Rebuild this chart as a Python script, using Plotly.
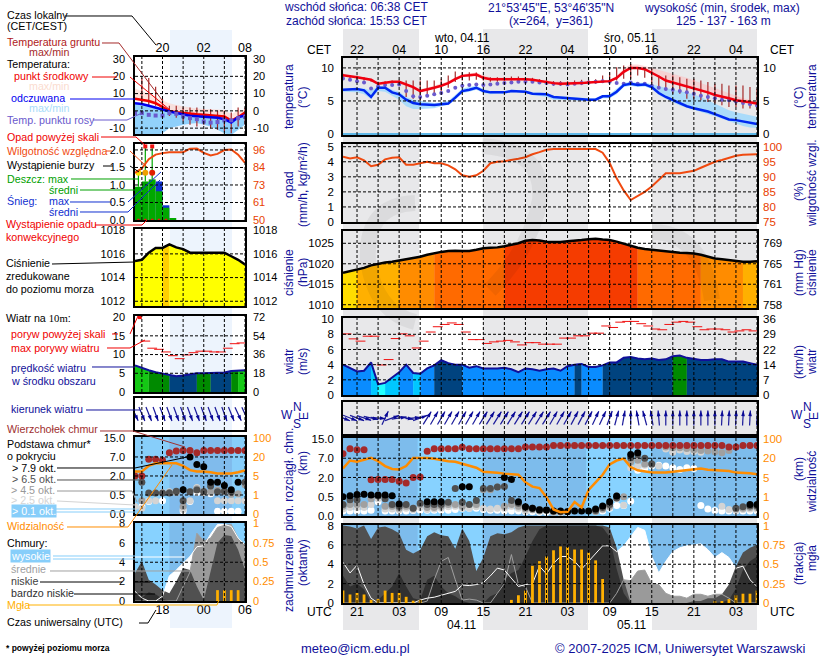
"""
Meteogram ICM - 60 h forecast with the legend panel on the left
"""
import math
import numpy as np
import plotly.graph_objects as go

W, H = 820, 660
FONT = "Liberation Sans"
NAVY = "#10109a"
ORANGE = "#ff8c00"
RH_RED = "#f04a10"

# ---------------- left legend panels, hours from 16 CET
hours_left = list(range(17))
ticks_left_cet = ["20", "02", "08"]
ticks_left_utc = ["18", "00", "06"]

temp_left = [7.1, 6.6, 5.7, 4.4, 2.2, 0.0, -0.8, -1.3, -1.6, -2.0, -2.3, -2.5, -2.8, -3.3, -5.6, -3.7, -1.0]
temp_left_max = [13, 11.5, 10, 8.3, 6, 4.4, 3.4, 2.5, 2, 1.4, 1, 1, 0.8, 0.5, -2, 0, 0.6]
temp_left_min = [6.5, 5.5, 4.5, 3.5, 1.5, -0.8, -1.5, -2, -2.3, -3, -3, -3.5, -3.8, -4, -6.5, -5, -2]
feels_left = [4.4, 4.0, 3.0, 2.1, 0.8, -0.4, -1.2, -2.3, -2.8, -3.1, -3.3, -3.5, -4.0, -4.8, -6.7, -3.7, -2.7]
feels_left_max = [4.5, 4, 3, 2, 1, 0, -1, -2, -2.5, -3, -3, -3.5, -4, -4.5, -6.5, -3.5, -2.5]
feels_left_min = [-14, -14, -14, -14, -13, -10, -9, -8, -7.5, -7, -8, -9, -11, -13, -14, -11, -8]
dew_left = [-1.3, -1.3, -2.3, -2.7, -2.7, -1.3, -1.7, -3.2, -4.2, -4.8, -6.2, -6.8, -6.5, -5.5, -5.5, -4.2, -3.5]
ground_left_max = [None, 19, 19, 14, 7, 3, 3, 2, 2, 2, 1, 1, 0, 0, -1, 2, 2]
ground_left_min = [None, 5, 3, 3, 1, -3, -4, -6, -8, -9, -8, -10, -11, -12, -13, -9, -8]

rain_left = [0.95, 1.1, 1.16, 0.82, 0.35, 0.05, 0, 0, 0, 0, 0, 0, 0, 0, 0, 0]
snow_left = [0, 0, 0, 1.1, 0.42, 0, 0, 0, 0, 0, 0, 0, 0, 0, 0, 0]
rain_max_left = [1.35, 2.1, 2.1]
storm_left = [1.35, 1.35, 1.35]
storm_colors = ["#ffe000", "#f0a000", "#e02000"]
rh_left = [81, 84, 90, 93, 94, 94.6, 94.6, 94.6, 96.9, 97, 94.2, 92.4, 93.5, 96, 96.4, 93, 87.6]
pressure_left = [1015.4, 1015.5, 1016.1, 1016.5, 1016.5, 1016.8, 1016.55, 1016.4, 1016.1, 1016.1, 1016.1,
                 1016.1, 1016.1, 1016.1, 1015.8, 1015.5, 1015.1]
wind_left = [7.1, 6.4, 5.8, 5.3, 4.9, 4.4, 4.2, 4.4, 4.7, 5.0, 5.0, 5.0, 5.1, 5.2, 5.6, 5.7, 5.8]
wind_left_class = [6, 6, 5, 5, 5, 4, 4, 4, 4, 5, 5, 4, 4, 4, 5, 6]
gust_left = [None, 13.6, 11.7, 11.4, 10.7, 9.7, 8.9, 9.9, 10.5, 10.9, 10.9, 10.7, 10.7, 11.7, 12.9, 13.1]
dir_left = [155, 157, 158, 160, 160, 160, 160, 160, 160, 160, 160, 160, 160, 160, 158, 155, 155]

top_left = [2, 2, 6.4, 6.4, 6.15, 8.8, 9.5, 9.7, 9.7, 8.8, 9.7, 9.7, 9.7, 9.7, 9.7, 9.7, 9.7]
base79_left = [None, None, None, None, None, None, None, 0.92, 7, 5, 4.4, 1.5, 1.5, 1.25, 0.92, 1.5, None]
base65_left = [None, 1.5, 0.65, 0.65, 0.65, 0.65, 0.8, 0.35, 0.75, 0.9, 0.75, 1.2, 0.75, 0.8, 0.75, None, 1.5]
base45_left = [None, 0.35, None, None, None, 0.7, 0.7, 0.2, 0.75, 1.0, 0.8, 0.75, 0.9, 0.75, 0.55, 0.6, 1.3]
base25_left = [0.2, 0.15, 0.35, 0.35, 0.7, 0.75, 0.75, 0.12, 0.35, 1.1, 0.7, 0.7, 0.35, 0.35, 0.35, 0.35, 0.35]
base01_left = [None, 0.2, 0.33, None, 0.35, None, None, 0.08, 0.33, 0.7, 0.7, 0.6, 0.07, 0.07, 0.07, 0.07, None]
vis_left = [8.6, 8.6, 13, 15, 15, 15, 15, 13, 9.6, 8.6, 8.6, 8, 7, 7, 7, 8, 9.3]

high_left = [1.0, 0.3, 0, 0, 0.5, 2.6, 3.2, 3.9, 4.6, 5.6, 5.7, 6.9, 7.9, 7.9, 7.7, 6.5, 5.8]
mid_left = [0, 0, 0, 0, 0, 0, 0, 1.5, 3, 7, 6.2, 6.5, 7.6, 7.8, 7.9, 6.5, 5.8]
low_left = [2.9, 4.1, 2.2, 1.7, 1.1, 0.8, 2, 3.4, 3.2, 1.5, 0.1, 2.9, 6, 6.8, 6.7, 5.3, 3.2]
vlow_left = [0.8, 0.3, 0.9, 0.7, 0.2, 0, 0, 0, 0, 0, 0, 0, 0, 0, 0, 0, 0]
fog_left = [0, 0, 0, 0, 0, 0, 0, 0, 0, 0, 0, 0, 0.14, 0.14, 0.14, 0.14, 0]

# ---------------- main panels, hours from 20 CET on 03.11
hours_main = list(range(60))
ticks_main_cet = ["22", "04", "10", "16", "22", "04", "10", "16", "22", "04"]
ticks_main_utc = ["21", "03", "09", "15", "21", "03", "09", "15", "21", "03"]

temp_main = [8.9, 8.8, 8.6, 8.4, 8.2, 7.6, 7.8, 7.9, 7.9, 7.5, 7.1, 6.5, 6.7, 7.0, 7.3, 7.7, 8.3, 8.8, 8.9, 9.0,
             8.5, 8.3, 8.3, 8.3, 8.4, 8.4, 8.3, 8.2, 8.0, 7.9, 7.7, 7.6, 7.6, 7.7, 7.7, 7.8, 7.9, 8.0, 8.0, 8.5,
             9.4, 10.0, 10.0, 9.8, 9.3, 8.7, 8.1, 7.8, 7.6, 7.3, 7.0, 6.6, 6.3, 5.9, 5.7, 5.4, 5.1, 5.0, 4.8, 4.6]
temp_main_max = [9.0, 8.9, 8.8, 8.6, 8.3, 7.8, 8.0, 8.0, 8.0, 7.7, 7.3, 6.8, 7.0, 7.3, 7.6, 8.0, 8.6, 9.0, 9.2, 9.3,
                 8.9, 8.6, 8.6, 8.6, 8.6, 8.6, 8.5, 8.4, 8.2, 8.1, 8.0, 7.9, 7.9, 7.9, 7.9, 8.0, 8.1, 8.2, 8.2, 8.8,
                 9.9, 10.5, 10.5, 10.3, 10.0, 9.7, 9.5, 9.2, 8.8, 8.5, 8.1, 7.7, 7.3, 6.9, 6.5, 6.1, 5.7, 5.4, 5.2, 4.9]
temp_main_min = [8.7, 8.6, 8.4, 8.2, 8.0, 7.4, 7.6, 7.7, 7.7, 7.2, 6.8, 6.3, 6.5, 6.8, 7.1, 7.5, 8.1, 8.6, 8.7, 8.7,
                 8.3, 8.1, 8.1, 8.1, 8.2, 8.2, 8.1, 8.0, 7.8, 7.6, 7.4, 7.3, 7.4, 7.5, 7.5, 7.6, 7.7, 7.8, 7.8, 8.3,
                 9.1, 9.8, 9.8, 9.6, 9.1, 8.5, 7.9, 7.6, 7.4, 7.1, 6.8, 6.4, 6.1, 5.7, 5.5, 5.2, 4.9, 4.7, 4.5, 4.3]
feels_main = [6.7, 6.8, 6.8, 6.6, 5.6, 7.0, 7.0, 6.3, 6.0, 5.2, 4.7, 4.5, 4.4, 4.4, 4.5, 4.6, 5.5, 6.5, 6.7, 7.0,
              6.5, 6.3, 6.3, 6.3, 6.5, 6.5, 6.4, 6.1, 6.0, 6.0, 5.6, 5.5, 5.5, 5.3, 5.3, 5.2, 5.2, 5.7, 5.7, 6.4,
              7.4, 7.6, 7.4, 7.5, 7.1, 6.2, 5.6, 5.1, 4.6, 4.2, 3.9, 3.7, 3.4, 3.0, 2.6, 2.2, 2.1, 1.9, 1.7, 1.5]
feels_main_max = [6.9, 6.9, 6.9, 6.9, 6.6, 7.2, 7.2, 6.7, 6.4, 5.6, 5.2, 5.0, 4.8, 4.7, 4.8, 5.0, 5.9, 6.9, 7.1, 7.3,
                  6.8, 6.5, 6.5, 6.5, 6.7, 6.7, 6.6, 6.3, 6.2, 6.2, 5.8, 5.7, 5.7, 5.5, 5.5, 5.4, 5.4, 5.9, 6.0, 6.8,
                  7.7, 7.9, 7.7, 7.8, 7.5, 7.2, 6.9, 6.7, 6.5, 6.3, 6.0, 5.6, 5.1, 4.6, 4.1, 3.6, 3.3, 3.1, 2.8, 2.6]
feels_main_min = [6.4, 6.4, 6.3, 6.0, 5.3, 6.5, 6.4, 5.8, 5.2, 4.2, 3.8, 3.8, 3.9, 3.9, 4.2, 4.4, 5.2, 6.2, 6.4, 6.7,
                  6.2, 6.0, 6.1, 6.1, 6.3, 6.3, 6.2, 5.9, 5.8, 5.6, 5.2, 5.2, 5.2, 5.1, 5.0, 5.0, 5.1, 5.4, 5.4, 6.0,
                  7.1, 7.3, 7.1, 7.2, 6.8, 5.9, 5.3, 4.8, 4.3, 4.0, 3.7, 3.4, 3.1, 2.7, 2.3, 1.9, 1.6, 1.2, 1.0, 0.9]
dew_main = [8.4, 8.2, 8.0, 7.8, 6.9, 7.2, 7.4, 7.4, 7.5, 6.5, 5.7, 5.6, 5.8, 6.0, 6.2, 6.5, 7.0, 7.3, 7.4, 7.5,
            7.4, 7.5, 7.6, 7.7, 7.8, 7.9, 7.9, 7.9, 7.8, 7.7, 7.6, 7.6, 7.5, 7.6, 7.7, 7.8, 7.9, 8.0, 7.9, 7.7,
            7.6, 7.8, 7.6, 7.6, 7.3, 7.0, 6.8, 6.7, 6.5, 6.3, 6.1, 5.8, 5.6, 5.4, 5.2, 5.1, 4.9, 4.7, 4.5, 4.3]
ground_main_max = [9.1, 8.9, 8.8, 8.6, 8.3, 7.9, 8.0, 8.1, 8.2, 8.1, 8.1, 8.1, 8.1, 8.1, 8.35, 8.85, 9.45, 9.35, 9.35, 9.3,
                   8.8, 8.6, 8.6, 8.6, 8.7, 8.7, 8.6, 8.5, 8.3, 8.2, 8.0, 8.0, 8.0, 8.1, 8.2, 8.2, 8.3, 8.85, 9.35, 10.1,
                   10.35, 10.6, 10.1, 9.9, 9.9, 8.85, 8.85, 8.85, 8.6, 8.35, 8.35, 8.1, 7.85, 7.6, 7.6, 7.35, 7.35, 7.35, 7.1, 6.85]
ground_main_min = [8.5, 8.4, 8.3, 8.1, 7.9, 7.1, 7.5, 7.6, 7.6, 5.6, 5.35, 5.1, 5.6, 6.1, 6.35, 7.0, 7.85, 8.1, 8.1, 8.2,
                   8.1, 7.9, 7.9, 8.0, 8.1, 8.0, 8.0, 7.9, 7.7, 7.5, 7.3, 7.3, 7.3, 7.4, 7.4, 7.5, 7.6, 7.85, 7.85, 8.1,
                   8.35, 8.35, 8.85, 8.5, 7.6, 6.85, 6.6, 6.1, 6.1, 5.35, 5.35, 5.1, 4.85, 4.6, 4.35, 4.1, 4.1, 3.85, 3.85, 3.6]

rain_main = [0] * 59
rh_main = [96.7, 96.1, 96.5, 95.5, 93.5, 94, 95.8, 96.3, 96.5, 94, 94, 94.5, 95, 94.5, 94.5, 93.8, 92.5, 90.5, 90, 90.5,
           92, 94.5, 95, 95.2, 95.5, 96, 96.5, 97.5, 98.2, 99, 99.2, 99.2, 99.2, 99.2, 99.2, 99.2, 99.2, 98, 94.6, 89.5,
           85.5, 82.3, 83.7, 85, 86.8, 89, 91.2, 91.2, 91.2, 91.6, 92, 93, 94, 95, 95.6, 96.2, 97, 97.3, 97.5, 97.5]
pressure_main = [1017.8, 1018.2, 1018.5, 1019, 1019.6, 1020, 1020.3, 1020.5, 1020.8, 1021.2, 1021.4, 1021.7, 1022.2,
                 1022.6, 1022.9, 1023.1, 1023.2, 1023.1, 1023.1, 1023.4, 1023.8, 1023.9, 1024, 1024.3, 1024.6, 1025,
                 1025.6, 1025.8, 1025.7, 1025.4, 1025.3, 1025.3, 1025.5, 1025.6, 1025.8, 1026, 1026.1, 1025.9, 1025.8,
                 1025.4, 1024.9, 1024.3, 1023.9, 1023.6, 1023.4, 1023.3, 1023, 1022.8, 1022.7, 1022.6, 1022.5, 1022.2,
                 1021.7, 1021.3, 1021.1, 1020.9, 1020.6, 1020.5, 1020.5, 1020.6]
wind_main = [4.0, 3.5, 3.1, 3.2, 4.3, 1.4, 1.6, 2.3, 3.0, 4.0, 2.9, 2.8, 3.5, 3.9, 4.6, 4.2, 4.0, 4.0, 3.6, 3.8,
             3.5, 3.5, 3.5, 3.6, 3.4, 3.0, 3.5, 3.4, 3.2, 3.4, 3.5, 3.2, 3.8, 4.0, 4.1, 3.7, 3.7, 3.9, 4.3, 4.3,
             4.9, 5.0, 4.8, 4.7, 4.8, 4.6, 4.7, 5.1, 5.2, 4.9, 4.8, 4.6, 4.6, 4.7, 4.7, 4.4, 4.4, 4.4, 4.2, 4.0]
wind_main_class = [3, 3, 3, 3, 2, 1, 2, 2, 3, 3, 2, 3, 3, 4, 4, 4, 4] + [3] * 16 + [4] + [3] * 3 + [4] * 10 + [5, 5] + [4] * 10
gust_main = [8.06, 7.4, 7.1, 7.75, 7.75, 3.96, 4.67, 7.44, 8.06, 7.8, 6.2, 7.1, 8.3, 9.0, 9.3, 9.5, 9.3, 8.3, 7.3, 7.3,
             6.8, 7.0, 7.1, 7.2, 7.0, 6.6, 6.9, 6.9, 6.7, 6.7, 6.7, 7.5, 7.5, 7.8, 7.8, 8.15, 8.15, 9.1, 8.9, 9.6,
             9.7, 9.7, 9.4, 9.1, 8.7, 8.6, 9.3, 9.6, 9.7, 9.6, 9.0, 8.6, 8.7, 8.7, 8.6, 8.3, 8.45, 8.6, 8.45]
dir_main = [112, 112, 110, 108, 102, 95, 25, 70, 82, 100, 85, 70, 32, 30, 30, 30, 30, 30, 30, 30,
            32, 32, 32, 32, 32, 32, 32, 32, 32, 32, 30, 30, 30, 28, 28, 28, 25, 25, 20, 15,
            10, 0, -10, -15, -10, -5, 0, 0, 0, 0, 0, 0, 0, 0, 3, 3, 3, 3, 3, 3]

top_main = [8.9, 10.9, 10.5, 10.5, 1.82, 1.85, 1.85, 1.85, 1.7, 1.57, 2.0, 2.15, 9.9, 10.9, 10.9, 10.9, 10.9, 11.6, 10.9, 10.9,
            10.9, 10.9, 10.9, 10.9, 10.9, 10.9, 11.7, 11.7, 11.7, 11.7, 12.3, 12.3, 12.3, 12.3, 12.3, 12.3, 12.3, 12.3, 12.3, 12.3,
            12.3, 12.3, 12.3, 12.3, 12.3, 12.3, 12.3, 12.3, 12.3, 12.3, 12.3, 12.3, 12.3, 12.3, 12.3, 11.7, 11.7, 12.3, 12.3, 12.3]
base79_main = [0.5, 0.58, 0.68, 0.7, 0.63, 0.63, 0.63, 0.58, 0.31, None, None, None, 0.37, 0.37, 0.37, None, None, 1.28, 1.28, None,
               None, None, None, 2.0, 1.85, 0.37, 0.24, 0.2, 0.155, 0.155, 0.13, 0.13, 0.11, 0.13, 0.13, 0.13, 0.18, 0.26, 0.37, 0.55,
               None, 8.5, 9.3, None, None, None, None, None, None, None, None, None, None, None, None, None, None, None, 0.3, 0.3]
base65_main = [0.3, 0.42, 0.42, None, None, 0.55, 0.45, 0.3, 0.25, 0.3, 0.2, 0.33, 0.3, 0.3, 0.3, 0.36, 1.15, 0.36, 0.3, 0.4,
               1.15, 1.15, 1.25, 1.3, 0.4, 0.33, 0.22, 0.2, 0.17, 0.15, 0.13, 0.11, 0.12, None, None, None, 0.14, 0.22, 0.3, 0.47,
               None, 7.2, 8.5, 7.0, 5.5, None, None, None, None, None, None, None, None, None, None, None, 0.2, 0.24, 0.26, 0.26]
base45_main = [0.25, 0.3, 0.3, 0.3, 0.45, 0.6, 0.25, 0.25, 0.2, 0.25, 0.2, 0.3, 0.22, 0.22, 0.25, 0.3, 0.3, 0.25, None, 0.3,
               1.05, 1.05, 1.25, 0.25, 0.3, 0.25, 0.18, 0.16, 0.13, None, 0.1, 0.1, None, None, None, None, 0.12, 0.18, 0.25, 0.55,
               0.5, 6.0, 6.5, 5.5, 5.5, None, 11.7, 11.4, 11.4, 11.0, 10.5, 10.2, 10.0, 9.7, 9.3, 10.2, 0.18, 0.2, 0.22, 0.22]
base25_main = [0.18, 0.22, 0.22, 0.22, 0.3, 0.45, 0.18, 0.18, 0.16, 0.2, 0.16, 0.22, 0.17, 0.18, 0.2, 0.24, 0.25, 0.2, 0.2, 0.24,
               0.2, 0.18, 0.2, 0.2, 0.25, 0.2, 0.13, None, None, None, None, None, None, None, None, None, 0.11, 0.16, 0.22, 0.45,
               0.28, 4.5, 5.0, 5.2, 5.3, 5.0, 10.8, 9.5, 10.4, 9.8, 9.8, 9.5, None, None, 0.25, 0.17, 0.15, 0.17, 0.18, 0.18]
base01_main = [0.13, 0.13, 0.13, 0.13, 0.15, 0.37, 0.13, 0.13, 0.13, 0.13, 0.14, 0.15, 0.15, 0.15, 0.15, 0.15, 0.17, 0.2, 0.2, 0.2,
               0.17, 0.15, 0.15, 0.13, 0.13, 0.13, 0.11, 0.11, 0.1, 0.1, 0.1, 0.09, 0.1, None, None, None, None, 0.13, 0.2, 0.27,
               0.27, 0.38, 3.9, 4.35, 5.0, 5.2, 4.95, 4.5, 4.05, 4.5, 4.35, 0.27, 0.18, 0.14, 0.13, 0.13, 0.13, 0.13, 0.13, 0.13]
vis_main = [12, 18.2, 17.2, 19, 21.4, 17.7, 13.9, 11.6, 11.3, 13.9, 21.4, 21.4, 21.4, 19.5, 18.5, 17.7, 17.2, 15.7, 13.9, 12.6,
            9.5, 8.8, 8.6, 8, 7.6, 7.1, 4, 3.1, 2.8, 0.98, 0.34, 0.2, 0.22, 0.73, 0.44, 2.4, 4, 7.1, 15.2, 18.2,
            19.7, 13.1, 10.6, 9.5, 8.8, 8.8, 8.8, 9.5, 10, 10.6, 11.1, 11.9, 11.1, 10.6, 10.4, 10, 8.8, 8.6, 8.3, 7.6]

high_main = [4.2, 3.1, 3.9, 1.9, 0.5, 0, 0, 0, 0, 0, 0, 0.3, 0.5, 0.6, 0.8, 1.0, 1.2, 1.85, 1.8, 1.9,
             2.1, 2.8, 3.6, 3.4, 2.6, 1.7, 1.9, 2, 3.8, 3, 4.1, 4.8, 4.8, 4.3, 3.5, 4.3, 5, 5.9, 5.9, 5.3,
             5.9, 6.9, 7.8, 7.5, 4.8, 3.1, 4.3, 5.3, 5.7, 5.9, 6, 6.1, 5.5, 4.7, 5.2, 4.7, 3.6, 3.8, 2.4, 1.7]
mid_main = [0, 0, 0, 0, 0, 0, 0, 0, 0, 0, 0, 0, 0.2, 2.4, 4.3, 4.7, 2.4, 0.3, 0.4, 0.3,
            0, 0, 1, 2, 5, 1.9, 1.7, 0, 0, 0, 0, 0, 0, 0, 0, 0, 0, 0, 0, 1.0,
            2.4, 2.3, 3.3, 3.4, 2, 1.9, 1, 0.7, 0.7, 0.5, 0.9, 0.9, 0.7, 0.9, 0.9, 0.5, 0, 0, 0, 0]
low_main = [8, 7.9, 7.7, 8, 6.6, 7.8, 7.9, 7.6, 7.2, 5.5, 5.1, 5.5, 6.9, 7.3, 7, 6.9, 5.6, 7.7, 6.4, 3.3,
            4.7, 6.9, 7.2, 7.1, 7.3, 7.8, 8, 8, 8, 8, 8, 8, 8, 8, 8, 8, 8, 8, 7.8, 5.7,
            2.4, 0, 0, 0, 0, 0, 0, 0, 0, 0, 0.2, 0.2, 0.5, 0.5, 0.9, 1.9, 3.8, 5.2, 5.7, 6]
vlow_main = [2.8, 1.7, 2, 1.4, 0, 0.3, 1, 1.7, 3.1, 1.7, 0.5, 0.3, 2.4, 2.8, 1.7, 1, 0.7, 0.2, 0, 0,
             0, 0.7, 1, 2.4, 3.1, 3.4, 4.8, 6.4, 7.6, 8, 8, 8, 8, 8, 8, 8, 8, 7.8, 6.8, 3.5,
             1, 0, 0, 0, 0, 0, 0, 0, 0, 0, 0, 0, 0, 0, 0.1, 0.3, 1.5, 3.4, 4.3, 4.8]
fog_main = [0.16, 0.11, 0.13, 0.11, 0.04, 0.05, 0.16, 0.13, 0.13, 0.08, 0.03, 0.04, 0, 0, 0, 0, 0, 0, 0, 0,
            0, 0, 0, 0, 0.04, 0.1, 0.16, 0.48, 0.54, 0.6, 0.68, 0.73, 0.72, 0.69, 0.69, 0.65, 0.55, 0.31, 0, 0,
            0, 0, 0, 0, 0, 0, 0, 0, 0, 0, 0, 0, 0, 0.02, 0.02, 0.05, 0.1, 0.12, 0.12, 0.16]

cloud_ticks = [0, 0.5, 2, 7, 15]
vis_ticks = [0, 1, 5, 20, 100]
pos_ticks = [0, 1, 2, 3, 4]
sun_main = [(0, 10.63), (19.88, 34.63), (43.88, 59)]
sun_left = [(5, 14.1)]


def px(x):
    return x / W


def py(y):
    return 1 - y / H


fig = go.Figure()
axes = {}
shapes = []
annots = []


def pick(idx, right=False):
    return dict(xaxis=f"x{idx}", yaxis=f"y{idx + 20}" if right else f"y{idx}")


def panel(idx, box, xr, yr, left=None, right=None, yr2=None, xticks=None, xside="bottom",
          grid_y=(), left_color="black", right_color="black"):
    """Axes of one panel, box is in pixels of the page."""
    x0, y0, x1, y1 = box
    small = idx < 8
    tick_font = dict(family=FONT, size=11 if small else 11.5)
    if xside == "bottom":
        x_standoff = -4
    else:
        x_standoff = -2 if small else -3
    xa = dict(domain=[px(x0), px(x1)], range=xr, anchor=f"y{idx}", showgrid=False, zeroline=False,
              showline=True, linecolor="black", linewidth=1.5, mirror=True, ticks="", side=xside,
              showticklabels=xticks is not None, tickfont=dict(family=FONT, size=12.5, color="black"),
              ticklabelstandoff=x_standoff)
    if xticks:
        xa.update(tickmode="array", tickvals=xticks[0], ticktext=xticks[1])
    ya = dict(domain=[py(y1), py(y0)], range=yr, anchor=f"x{idx}", showgrid=False, zeroline=False,
              showline=True, linecolor="black", linewidth=1.5, mirror=True, ticks="",
              showticklabels=left is not None, tickfont=dict(tick_font, color=left_color))
    if left:
        ya.update(tickmode="array", tickvals=left[0], ticktext=left[1], ticklabelstandoff=6 if small else 5)
    yb = dict(domain=[py(y1), py(y0)], range=yr2 or yr, anchor=f"x{idx}", overlaying=f"y{idx}", side="right",
              showgrid=False, zeroline=False, showline=False, ticks="",
              showticklabels=right is not None, tickfont=dict(tick_font, color=right_color))
    if right:
        yb.update(tickmode="array", tickvals=right[0], ticktext=right[1], ticklabelstandoff=7 if small else 5)
    axes[f"xaxis{idx}"] = xa
    axes[f"yaxis{idx}"] = ya
    axes[f"yaxis{idx + 20}"] = yb
    fig.add_trace(go.Scatter(x=[None], y=[None], showlegend=False, **pick(idx, True)))
    # grid has to stay over the areas, so it is drawn as shapes
    for v in np.arange(xticks_grid[idx], xr[1] + 0.01, 3):
        shapes.append(dict(type="line", xref=f"x{idx}", yref=f"y{idx}", x0=v, x1=v, y0=yr[0], y1=yr[1],
                           line=dict(color="black", width=1, dash="3px,2px"), layer="above"))
    for v in grid_y:
        shapes.append(dict(type="line", xref=f"x{idx}", yref=f"y{idx}", x0=xr[0], x1=xr[1], y0=v, y1=v,
                           line=dict(color="black", width=1, dash="3px,2px"), layer="above"))


def sky_background(idx, xr, yr, nights, day, night):
    shapes.append(dict(type="rect", xref=f"x{idx}", yref=f"y{idx}", x0=xr[0], x1=xr[1], y0=yr[0], y1=yr[1],
                       fillcolor=day, line_width=0, layer="below"))
    for a, b in nights:
        shapes.append(dict(type="rect", xref=f"x{idx}", yref=f"y{idx}", x0=a, x1=b, y0=yr[0], y1=yr[1],
                           fillcolor=night, line_width=0, layer="below"))


def line(idx, xs, ys, color, width=2, **kw):
    fig.add_trace(go.Scatter(x=xs, y=ys, mode="lines", line=dict(color=color, width=width), showlegend=False,
                             **pick(idx), **kw))


def band(idx, xs, lo, hi, color):
    fig.add_trace(go.Scatter(x=xs, y=lo, mode="lines", line=dict(width=0), showlegend=False, **pick(idx)))
    fig.add_trace(go.Scatter(x=xs, y=hi, mode="lines", line=dict(width=0), fill="tonexty", fillcolor=color,
                             showlegend=False, **pick(idx)))


def dots(idx, xs, ys, color, size=7, symbol="circle"):
    fig.add_trace(go.Scatter(x=xs, y=ys, mode="markers", marker=dict(color=color, size=size, symbol=symbol,
                                                                      line=dict(width=0)),
                             showlegend=False, **pick(idx)))


def stems(idx, xs, lo, hi, color, width=1):
    sx, sy = [], []
    for x, a, b in zip(xs, lo, hi):
        if a is None or b is None:
            continue
        sx += [x, x, None]
        sy += [a, b, None]
    line(idx, sx, sy, color, width)


def dashes(idx, xs, ys, size):
    fig.add_trace(go.Scatter(x=xs, y=ys, mode="markers", showlegend=False,
                             marker=dict(symbol="line-ew", size=size, line=dict(color="#f01010", width=1)),
                             **pick(idx)))


def area_by_color(idx, xs, ys, colors, floor):
    """One polygon for every run of hours in the same colour."""
    start = 0
    for i in range(1, len(colors) + 1):
        if i == len(colors) or colors[i] != colors[start]:
            rx = list(xs[start:i + 1])
            ry = list(ys[start:i + 1])
            fig.add_trace(go.Scatter(x=rx + [rx[-1], rx[0]], y=ry + [floor, floor], mode="lines", fill="toself",
                                     fillcolor=colors[start], line=dict(width=0.5, color=colors[start]),
                                     showlegend=False, **pick(idx)))
            start = i


def pressure_color(p):
    steps = [(1018.5, "#ffdc00"), (1020.55, "#ffb000"), (1022.4, "#ff8c00"), (1024.2, "#ff6a00")]
    for limit, color in steps:
        if p < limit:
            return color
    return "#f53c00"


def wind_arrows(idx, xs, bearings, px_x, px_y, length=15, yc=0.5):
    """Shaft and head around the middle of the strip, length is in pixels."""
    sx, sy, hx, hy = [], [], [], []
    for x, b in zip(xs, bearings):
        r = math.radians(b)
        dx = math.sin(r) * length / 2 / px_x
        dy = math.cos(r) * length / 2 / px_y
        sx += [x - dx, x + dx, None]
        sy += [yc - dy, yc + dy, None]
        hx.append(x + dx)
        hy.append(yc + dy)
    fig.add_trace(go.Scatter(x=sx, y=sy, mode="lines", line=dict(color="#1a1a9a", width=1.2), cliponaxis=False,
                             showlegend=False, **pick(idx)))
    fig.add_trace(go.Scatter(x=hx, y=hy, mode="markers", cliponaxis=False, showlegend=False,
                             marker=dict(symbol="arrow", size=6, angle=list(bearings), color="#0a0a96",
                                         line=dict(width=0)), **pick(idx)))


def text(x, y, s, color="black", size=10.7, anchor="left", angle=0, bg=None):
    annots.append(dict(x=px(x), y=py(y), xref="paper", yref="paper", text=s, showarrow=False, xanchor=anchor,
                       yanchor="middle", textangle=angle, bgcolor=bg, borderpad=0,
                       font=dict(family=FONT, size=size, color=color)))


def leader(color, *pts, width=1):
    path = "M " + " L ".join(f"{px(x):.5f} {py(y):.5f}" for x, y in pts)
    shapes.append(dict(type="path", xref="paper", yref="paper", path=path, line=dict(color=color, width=width),
                       layer="above"))


def logo_stroke(*parts):
    """Faint curve of the logo behind the main panels: (x, y) start and (cx, cy, x, y) curve parts."""
    path = f"M {px(parts[0][0]):.5f} {py(parts[0][1]):.5f}"
    for cx, cy, x, y in parts[1:]:
        path += f" Q {px(cx):.5f} {py(cy):.5f} {px(x):.5f} {py(y):.5f}"
    shapes.append(dict(type="path", xref="paper", yref="paper", path=path,
                       line=dict(color="rgba(0,0,0,0.055)", width=16), layer="above"))


# boxes in page pixels
LX0, LX1 = 135, 245
MX0, MX1 = 343, 757
left_boxes = {1: (57, 134), 2: (144, 220), 3: (229, 306), 4: (316, 392), 5: (398, 430), 6: (437, 514), 7: (523, 601)}
main_boxes = {1: (58, 135), 2: (144, 222), 3: (231, 308), 4: (318, 395), 5: (402, 434), 6: (438, 516), 7: (525, 603)}
xticks_grid = {i: 1 for i in range(1, 8)}
xticks_grid.update({i: 2 for i in range(8, 15)})

# day and night bands behind everything
for a, b in [(343, 419), (483, 588), (652, 757)]:
    shapes.append(dict(type="rect", xref="paper", yref="paper", x0=px(a), x1=px(b), y0=py(630), y1=py(29),
                       fillcolor="#e8e8ea", line_width=0, layer="below"))
shapes.append(dict(type="rect", xref="paper", yref="paper", x0=px(170), x1=px(232), y0=py(628), y1=py(30),
                   fillcolor="#edf4fd", line_width=0, layer="below"))


def lbox(i):
    return (LX0, left_boxes[i][0], LX1, left_boxes[i][1])


def mbox(i):
    return (MX0, main_boxes[i][0], MX1, main_boxes[i][1])


xr_l, xr_m = [0, 16], [0, 59]
tick_l_x = [4, 10, 16]
tick_m_x = list(range(2, 60, 6))
mid_l = [h + 0.5 for h in hours_left[:-1]]
mid_m = [h + 0.5 for h in hours_main[:-1]]

# ---- temperature
yr = [-13.4, 31.2]
panel(1, lbox(1), xr_l, yr, left=([30, 20, 10, 0, -10], ["30", "20", "10", "0", "-10"]),
      right=([30, 20, 10, 0, -10], ["30", "20", "10", "0", "-10"]), xticks=(tick_l_x, ticks_left_cet), xside="top",
      grid_y=[20, 10, 0, -10])
band(1, hours_left, feels_left_min, feels_left_max, "rgba(110,195,250,0.75)")
band(1, hours_left, temp_left_min, temp_left_max, "rgba(255,205,195,0.55)")
stems(1, hours_left, ground_left_min, ground_left_max, "#a52a2a", 1.2)
line(1, hours_left, temp_left, "#f00000", 2.5)
line(1, hours_left, feels_left, "#0000f0", 2.5)
dots(1, hours_left, dew_left, "#6a5acd", 4, "square")

yr = [-0.15, 11.5]
panel(8, mbox(1), xr_m, yr, left=([0, 5, 10], ["0", "5", "10"]), right=([0, 5, 10], ["0", "5", "10"]),
      xticks=(tick_m_x, ticks_main_cet), xside="top", grid_y=[5, 10])
band(8, hours_main, feels_main_min, feels_main_max, "rgba(150,215,255,0.75)")
band(8, hours_main, temp_main_min, temp_main_max, "rgba(255,190,190,0.55)")
stems(8, hours_main, ground_main_min, ground_main_max, "#a52a2a", 1.2)
line(8, xr_m, [0, 0], "#5fb8e8", 2)
dots(8, hours_main, dew_main, "#6a5acd", 4)
line(8, hours_main, feels_main, "#0028f0", 2.5)
line(8, hours_main, temp_main, "#f00010", 2.5)

# ---- precipitation and humidity
yr = [0, 2.17]
panel(2, lbox(2), xr_l, yr, left=([0, 0.5, 1, 1.5, 2], ["0.0", "0.5", "1.0", "1.5", "2.0"]),
      right=([50, 61.5, 73, 84.5, 96], ["50", "61", "73", "84", "96"]), yr2=[50, 100],
      grid_y=[0.5, 1, 1.5, 2], right_color="#e84000")
fig.add_trace(go.Bar(x=mid_l, y=snow_left, width=1, marker=dict(color="#1030d0", line_width=0), showlegend=False, **pick(2)))
fig.add_trace(go.Bar(x=mid_l, y=rain_left, width=1, marker=dict(color="#00a800", line_width=0), showlegend=False, **pick(2)))
stems(2, mid_l[:3], rain_left[:3], rain_max_left, "#00a800", 1.2)
dots(2, mid_l[:3], storm_left, storm_colors, 6)
dots(2, mid_l[1:3], [2.1, 2.1], "#f01010", 4, "square")
dots(2, mid_l[:5], [0, 0, 0, 0, 0], "#f01010", 2.5, "square")
fig.add_trace(go.Scatter(x=hours_left, y=rh_left, mode="lines", line=dict(color=RH_RED, width=2),
                         showlegend=False, **pick(2, True)))

yr = [0, 5.18]
panel(9, mbox(2), xr_m, yr, left=([0, 1, 2, 3, 4, 5], ["0", "1", "2", "3", "4", "5"]),
      right=([75, 80, 85, 90, 95, 100], ["75", "80", "85", "90", "95", "100"]), yr2=[75, 100.9],
      grid_y=[1, 2, 3, 4, 5], right_color="#e84000")
fig.add_trace(go.Bar(x=mid_m, y=rain_main, width=1, marker=dict(color="#00a800", line_width=0), showlegend=False, **pick(9)))
fig.add_trace(go.Scatter(x=hours_main, y=rh_main, mode="lines", line=dict(color=RH_RED, width=2),
                         showlegend=False, **pick(9, True)))

# ---- pressure
yr = [1011.6, 1018.1]
panel(3, lbox(3), xr_l, yr, left=([1012, 1014, 1016, 1018], ["1012", "1014", "1016", "1018"]),
      right=([1012, 1014, 1016, 1018], ["1012", "1014", "1016", "1018"]), grid_y=[1012, 1014, 1016])
colors_l = ["#ffd000" if p > 1016.7 else "#ffff00" for p in pressure_left[1:]]
area_by_color(3, hours_left, pressure_left, colors_l, yr[0])
line(3, hours_left, pressure_left, "black", 2.5)

yr = [1009.2, 1028]
yr_mm = [v * 0.75006 for v in yr]
panel(10, mbox(3), xr_m, yr, left=([1010, 1015, 1020, 1025], ["1010", "1015", "1020", "1025"]),
      right=([757.6, 761.3, 765.1, 768.8], ["758", "761", "765", "769"]), yr2=yr_mm,
      grid_y=[1010, 1015, 1020, 1025])
colors_m = [pressure_color(p) for p in pressure_main[:-1]]
area_by_color(10, hours_main, pressure_main, colors_m, yr[0])
line(10, hours_main, pressure_main, "black", 2.5)

# ---- wind
wind_palette = {1: "#20ffff", 2: "#00c8ff", 3: "#0a8cff", 4: "#00437f", 5: "#008a00", 6: "#14c814"}
yr = [0, 20.3]
panel(4, lbox(4), xr_l, yr, left=([0, 5, 10, 15, 20], ["0", "5", "10", "15", "20"]),
      right=([0, 18, 36, 54, 72], ["0", "18", "36", "54", "72"]), yr2=[0, 20.3 * 3.6], grid_y=[5, 10, 15])
area_by_color(4, hours_left, wind_left, [wind_palette[c] for c in wind_left_class], 0)
line(4, hours_left, wind_left, "#10109a", 2)
dashes(4, mid_l, gust_left, 7)
dots(4, [0.7], [20], "#f01010", 4, "square")

yr = [0, 10.15]
panel(11, mbox(4), xr_m, yr, left=([0, 2, 4, 6, 8, 10], ["0", "2", "4", "6", "8", "10"]),
      right=([0, 7.2, 14.4, 21.6, 28.8, 36], ["0", "7", "14", "22", "29", "36"]), yr2=[0, 10.15 * 3.6],
      grid_y=[2, 4, 6, 8])
area_by_color(11, hours_main, wind_main, [wind_palette[c] for c in wind_main_class], 0)
line(11, hours_main, wind_main, "#10109a", 2)
dashes(11, mid_m, gust_main, 7)

# ---- wind direction
panel(5, lbox(5), xr_l, [0, 1])
wind_arrows(5, hours_left, dir_left, (LX1 - LX0) / 16, 32)
panel(12, mbox(5), xr_m, [0, 1])
wind_arrows(12, hours_main, dir_main, (MX1 - MX0) / 59, 32)

# ---- cloud base and visibility
yr = [0, 4.05]
cloud_labels = ["0.0", "0.5", "2.0", "7.0", "15.0"]
vis_labels = ["0", "1", "5", "20", "100"]
grey_layers = ["#ffffff", "#d4d4d4", "#a0a0a0", "#505050", "#000000"]


def cloud_panel(idx, box, xr, nights, day, night, layers, top, vis, hours):
    panel(idx, box, xr, yr, left=(pos_ticks, cloud_labels), right=(pos_ticks, vis_labels), grid_y=[1, 2, 3],
          right_color=ORANGE)
    sky_background(idx, xr, yr, nights, day, night)
    for series, color in zip(layers, grey_layers):
        dots(idx, hours, np.interp(np.array(series, dtype=float), cloud_ticks, pos_ticks), color)
    dots(idx, hours, np.interp(top, cloud_ticks, pos_ticks), "#a52a2a")
    line(idx, hours, np.interp(vis, vis_ticks, pos_ticks), ORANGE, 2.5)


cloud_panel(6, lbox(6), xr_l, sun_left, "#87cefa", "#80bbec",
            [base01_left, base25_left, base45_left, base65_left, base79_left], top_left, vis_left, hours_left)
cloud_panel(13, mbox(6), xr_m, sun_main, "#87d2ff", "#7dbcec",
            [base01_main, base25_main, base45_main, base65_main, base79_main], top_main, vis_main, hours_main)


# ---- cloud cover and fog
def cover_panel(idx, box, xr, nights, high, mid, low, vlow, fog, hours, xticks, fog_w):
    yr8 = [0, 8.05]
    panel(idx, box, xr, yr8, left=([0, 2, 4, 6, 8], ["0", "2", "4", "6", "8"]),
          right=([0, 0.25, 0.5, 0.75, 1], ["0", "0.25", "0.5", "0.75", "1"]), yr2=[0, 8.05 / 8],
          xticks=xticks, grid_y=[2, 4, 6], right_color=ORANGE)
    sky_background(idx, xr, yr8, nights, "#87d2ff", "#7dbcec")
    for series, color in [(high, "#ffffff"), (mid, "#9a9a9a"), (low, "#505050"), (vlow, "#303030")]:
        fig.add_trace(go.Scatter(x=hours, y=series, mode="lines", fill="tozeroy", fillcolor=color,
                                 line=dict(width=0), showlegend=False, **pick(idx)))
    line(idx, hours, mid, "#a0a0a0", 1)
    line(idx, hours, high, "#ffffff", 1)
    fig.add_trace(go.Bar(x=hours, y=fog, width=fog_w, marker=dict(color="#ffb000", line_width=0), showlegend=False,
                         **pick(idx, True)))


cover_panel(7, lbox(7), xr_l, sun_left, high_left, mid_left, low_left, vlow_left, fog_left, hours_left,
            (tick_l_x, ticks_left_utc), 0.4)
cover_panel(14, mbox(7), xr_m, sun_main, high_main, mid_main, low_main, vlow_main, fog_main, hours_main,
            (tick_m_x, ticks_main_utc), 0.4)

# faint logo over the main panels
logo_stroke((415, 203), (365, 205, 368, 260), (375, 312, 415, 322))
logo_stroke((482, 146), (545, 150, 540, 200), (530, 250, 490, 290))
logo_stroke((652, 232), (702, 232, 712, 300))

# ---- header and footer
text(356, 7, "wschód słońca: 06:38 CET", NAVY, 12, "center")
text(356, 21, "zachód słońca: 15:53 CET", NAVY, 12, "center")
text(551, 8, "21°53'45\"E, 53°46'35\"N", NAVY, 12, "center")
text(551, 21, "(x=264,  y=361)", NAVY, 12, "center")
text(722, 8, "wysokość (min, środek, max)", NAVY, 12, "center")
text(723, 21, "125 - 137 - 163 m", NAVY, 12, "center")
text(462, 38, "wto, 04.11", "black", 12, "center")
text(630, 38, "śro, 05.11", "black", 12, "center")
text(319, 50, "CET", "black", 12, "center")
text(782, 50, "CET", "black", 12, "center")
text(319, 612, "UTC", "black", 12, "center")
text(782, 612, "UTC", "black", 12, "center")
text(462, 625, "04.11", "black", 12, "center")
text(631, 625, "05.11", "black", 12, "center")
text(355, 648, "meteo@icm.edu.pl", NAVY, 13, "center")
text(680, 648, "© 2007-2025 ICM, Uniwersytet Warszawski", NAVY, 13, "center")

# ---- axis titles of the main panels
for x, y, s in [(289, 97, "temperatura"), (303, 98, "(°C)"), (289, 185, "opad"), (303, 185, "(mm/h, kg/m²/h)"),
                (289, 273, "ciśnienie"), (303, 273, "(hPa)"), (289, 362, "wiatr"), (303, 362, "(m/s)"),
                (289, 480, "pion. rozciągł. chm."), (303, 463, "(km)"), (289, 575, "zachmurzenie"),
                (303, 563, "(oktanty)"), (799, 98, "(°C)"), (812, 97, "temperatura"), (799, 192, "(%)"),
                (812, 183, "wilgotność wzgl."), (799, 273, "(mm Hg)"), (812, 273, "ciśnienie"), (799, 362, "(km/h)"),
                (812, 362, "wiatr"), (799, 469, "(km)"), (812, 482, "widzialność"), (799, 564, "(frakcja)"),
                (812, 558, "mgła")]:
    text(x, y, s, NAVY, 12, "center", -90)
for x0 in (287, 797):
    text(x0, 415, "W", NAVY, 12, "center")
    text(x0 + 10, 407, "N", NAVY, 12, "center")
    text(x0 + 10, 424, "S", NAVY, 12, "center")
    text(x0 + 17, 416, "E", NAVY, 12, "center", -90)

# ---- legend texts on the left
SKY = "#87cefa"
for x, y, s, c in [
    (6, 15, "Czas lokalny", "black"), (6, 26, "(CET/CEST)", "black"), (6, 42, "Temperatura gruntu", "#b02020"),
    (28, 52, "max/min", "#a52a2a"), (6, 64, "Temperatura:", "black"), (13, 76, "punkt środkowy", "#f00000"),
    (28, 86, "max/min", "#fbdccf"), (10, 98, "odczuwana", "#0000f0"), (28, 108, "max/min", "#a8dcfa"),
    (6, 120, "Temp. punktu rosy", "#6a5acd"), (6, 137, "Opad powyżej skali", "#f00000"),
    (6, 151, "Wilgotność względna", RH_RED), (6, 165, "Wystąpienie burzy", "black"),
    (6, 179, "Deszcz: max", "#00a000"), (48, 190, "średni", "#00a000"), (6, 201, "Śnieg:", "#1030d0"),
    (48, 201, "max", "#1030d0"), (48, 212, "średni", "#1030d0"), (5, 224, "Wystąpienie opadu", "#f00000"),
    (5, 237, "konwekcyjnego", "#f00000"), (5, 263, "Ciśnienie", "black"), (5, 276, "zredukowane", "black"),
    (5, 289, "do poziomu morza", "black"), (5, 318, "Wiatr na <span style='font-family:Liberation Serif'>10m</span>:", "black"),
    (10, 334, "poryw powyżej skali", "#f00000"), (10, 348, "max porywy wiatru", "#f00000"),
    (10, 368, "prędkość wiatru", "#10109a"), (10, 381, "w środku obszaru", "#10109a"),
    (10, 409, "kierunek wiatru", "#10109a"), (6, 429, "Wierzchołek chmur", "#a03030"),
    (6, 444, "Podstawa chmur*", "black"), (6, 456, "o pokryciu", "black"), (11, 468, "> 7.9 okt.", "black"),
    (11, 479, "> 6.5 okt.", "#505050"), (10, 490, "> 4.5 okt.", "#989898"), (10, 500, "> 2.5 okt.", "#d4d4d4"),
    (6, 526, "Widzialność", ORANGE), (6, 543, "Chmury:", "black"), (10, 569, "średnie", "#a0a0a0"),
    (10, 581, "niskie", "#404040"), (10, 593, "bardzo niskie", "#303030"), (6, 605, "Mgła", "#ffb000"),
    (6, 622, "Czas uniwersalny (UTC)", "black"),
]:
    text(x, y, s, c)
text(11, 511, "> 0.1 okt.", "white", bg=SKY)
text(10, 556, "wysokie", "white", bg=SKY)
text(5, 648, "<b>* powyżej poziomu morza</b>", "black", 8.5)

# ---- leader lines
leader("black", (65, 16), (132, 16), (156, 45))
leader("#a52a2a", (102, 43), (119, 43), (162, 100))
leader("#f00000", (92, 77), (117, 77))
leader("#f00000", (130, 77), (170, 110))
leader("#0000f0", (70, 99), (135, 99))
leader("#6a5acd", (93, 120), (127, 120), (142, 113))
leader("#f00000", (101, 137), (136, 137), (146, 146))
leader(RH_RED, (106, 151), (112, 151))
leader(RH_RED, (130, 151), (147, 167))
leader("black", (103, 166), (113, 166))
leader("black", (130, 166), (139, 172))
leader("#00a000", (71, 179), (139, 179))
leader("#00a000", (80, 190), (135, 190))
leader("#1030d0", (70, 202), (112, 202))
leader("#1030d0", (128, 202), (161, 172))
leader("#1030d0", (80, 212), (128, 212), (160, 180))
leader("#f00000", (95, 225), (142, 225), (147, 220))
leader("black", (52, 264), (135, 262))
leader("#f00000", (112, 334), (118, 334))
leader("#f00000", (130, 334), (138, 316))
leader("#f00000", (107, 348), (130, 348), (145, 340))
leader("#10109a", (92, 367), (135, 367))
leader("#10109a", (86, 410), (140, 410))
leader("#a03030", (100, 431), (133, 431), (185, 447))
leader("black", (57, 468), (135, 468), (192, 456))
leader("#505050", (57, 480), (143, 480))
leader("#989898", (57, 491), (132, 491), (137, 502))
leader("#d4d4d4", (57, 501), (135, 505))
leader(SKY, (55, 509), (135, 509))
leader(SKY, (55, 512), (135, 512))
leader(ORANGE, (67, 527), (128, 527), (172, 465))
leader(SKY, (53, 556), (135, 556))
leader(SKY, (53, 559), (135, 559))
leader("white", (135, 557), (185, 557))
leader("#a0a0a0", (50, 571), (192, 571))
leader("black", (40, 582), (122, 582))
leader("black", (135, 582), (150, 582))
leader("black", (74, 594), (155, 594))
leader("#ffb000", (28, 605), (217, 605), (219, 600))
leader("black", (139, 623), (148, 623), (156, 610))

fig.update_layout(width=W, height=H, margin=dict(l=0, r=0, t=0, b=0, autoexpand=False), autosize=False,
                  paper_bgcolor="white", plot_bgcolor="rgba(0,0,0,0)", showlegend=False, hovermode=False,
                  barmode="overlay", font=dict(family=FONT, size=12), shapes=shapes, annotations=annots, **axes)
fig.write_html("out.html", config=dict(displayModeBar=False),
               post_script="document.body.style.margin='0';")
